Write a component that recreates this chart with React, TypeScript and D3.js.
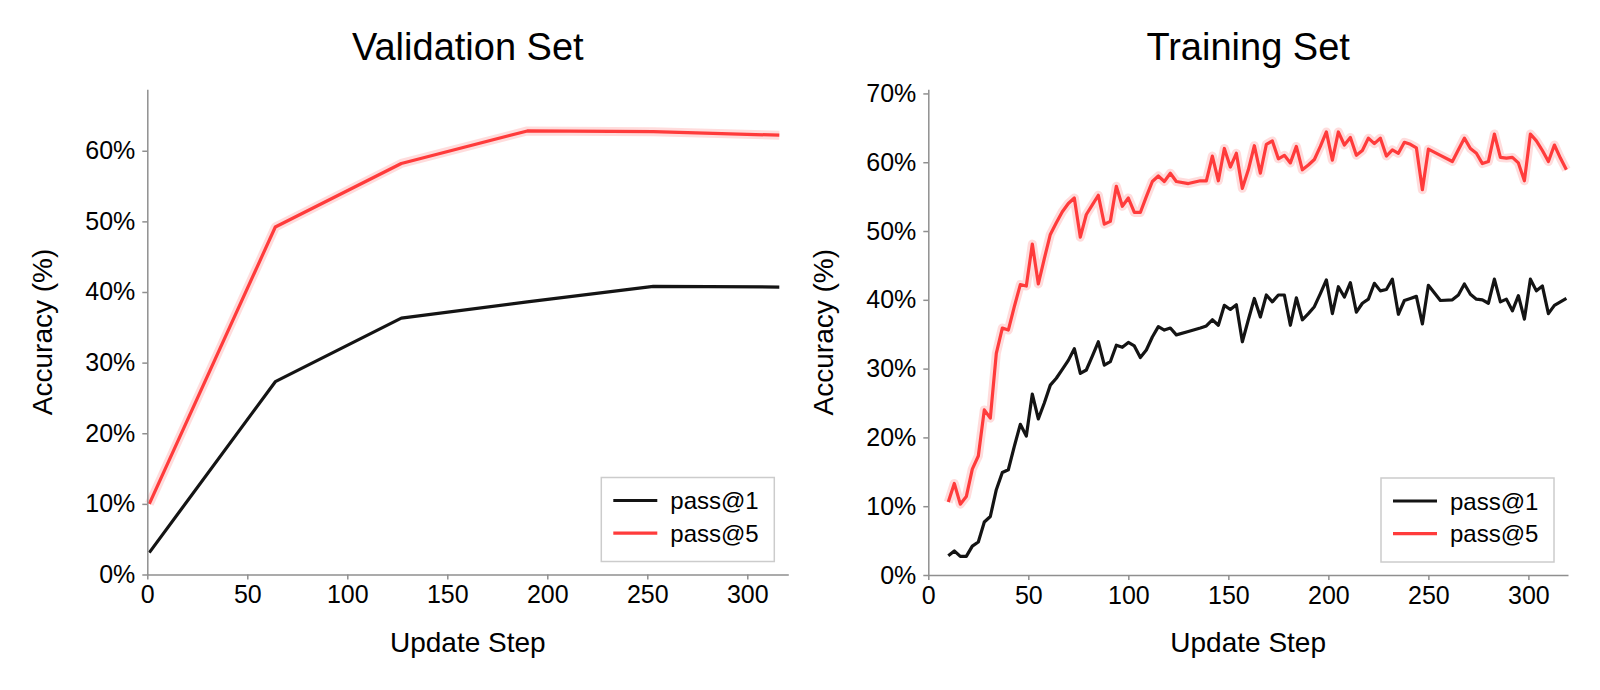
import * as d3 from "d3";
import { useEffect, useRef } from "react";

// validation set: evaluated every 63 update steps
const validationSteps = [1, 64, 127, 190, 253, 316];
const validationPass1 = [3.1, 27.3, 36.3, 38.6, 40.8, 40.7];
const validationPass5 = [10.0, 49.2, 58.2, 62.8, 62.7, 62.2];

// training set
const trainingSteps = [
  10, 13, 16, 19, 22, 25, 28, 31, 34, 37, 40, 43, 46, 49, 52, 55, 58, 61, 64, 67,
  70, 73, 76, 79, 82, 85, 88, 91, 94, 97, 100, 103, 106, 109, 112, 115, 118, 121, 124, 130,
  136, 139, 142, 145, 148, 151, 154, 157, 160, 163, 166, 169, 172, 175, 178, 181, 184, 187, 190, 193,
  196, 199, 202, 205, 208, 211, 214, 217, 220, 223, 226, 229, 232, 235, 238, 241, 244, 247, 250, 256,
  262, 265, 268, 271, 274, 277, 280, 283, 286, 289, 292, 295, 298, 301, 304, 307, 310, 313, 316, 319,
];
const trainingPass1 = [
  2.8, 3.5, 2.7, 2.7, 4.2, 4.8, 7.7, 8.5, 12.4, 14.9, 15.3, 18.7, 21.9, 20.2, 26.3, 22.7, 25.0, 27.6, 28.6, 29.9,
  31.2, 32.9, 29.3, 29.8, 31.8, 33.9, 30.5, 31.0, 33.4, 33.1, 33.8, 33.3, 31.6, 32.7, 34.6, 36.1, 35.6, 35.9, 34.9, 35.4,
  35.9, 36.2, 37.1, 36.3, 39.2, 38.6, 39.3, 33.9, 37.1, 40.2, 37.5, 40.7, 39.7, 40.7, 40.7, 36.3, 40.3, 37.1, 38.0, 39.0,
  40.9, 42.9, 38.0, 41.9, 40.4, 42.5, 38.2, 39.5, 40.1, 42.4, 41.3, 41.5, 43.0, 37.9, 39.9, 40.2, 40.5, 36.5, 42.1, 39.9,
  40.0, 40.7, 42.3, 40.8, 40.1, 40.0, 39.5, 43.0, 39.7, 40.1, 38.4, 40.6, 37.2, 43.0, 41.3, 42.0, 38.0, 39.2, 39.7, 40.2,
];
const trainingPass5 = [
  10.6, 13.3, 10.3, 11.4, 15.4, 17.3, 24.0, 22.8, 32.2, 35.9, 35.6, 39.0, 42.2, 42.0, 48.1, 42.3, 46.0, 49.5, 51.2, 52.8,
  54.0, 54.8, 49.1, 52.4, 53.8, 55.2, 51.0, 51.4, 56.5, 53.6, 54.8, 52.7, 52.7, 55.0, 57.2, 58.0, 57.2, 58.4, 57.2, 56.9,
  57.3, 57.3, 60.9, 57.3, 62.0, 59.3, 61.3, 56.2, 58.9, 62.4, 58.4, 62.6, 63.1, 60.5, 61.0, 59.9, 62.3, 58.9, 59.6, 60.4,
  62.3, 64.4, 60.3, 64.4, 62.5, 63.6, 61.0, 61.7, 63.5, 62.7, 63.5, 60.9, 61.8, 61.3, 62.9, 62.6, 62.1, 56.0, 61.9, 61.0,
  60.1, 61.8, 63.5, 62.0, 61.3, 59.8, 60.1, 64.1, 60.7, 60.6, 60.7, 59.9, 57.3, 64.1, 63.1, 61.7, 60.1, 62.5, 60.6, 58.9,
];

const xTicks = [0, 50, 100, 150, 200, 250, 300];
const validationYTicks = [0, 10, 20, 30, 40, 50, 60];
const trainingYTicks = [0, 10, 20, 30, 40, 50, 60, 70];
const seriesNames = ["pass@1", "pass@5"];

const FONT = "'Liberation Sans', Arial, Helvetica, sans-serif";
const BLACK = "#141414";
const RED = "#ff3b3b";
const SPINE = "#8f8f8f";

interface PanelProps {
  title: string;
  left: number;
  right: number;
  top: number;
  bottom: number;
  xMax: number;
  yMax: number;
  yTicks: number[];
  steps: number[];
  pass1: number[];
  pass5: number[];
}

function Panel({ title, left, right, top, bottom, xMax, yMax, yTicks, steps, pass1, pass5 }: PanelProps) {
  const axesRef = useRef<SVGGElement>(null);

  const xScale = d3.scaleLinear().domain([0, xMax]).range([left, right]);
  const yScale = d3.scaleLinear().domain([0, yMax]).range([bottom, top]);

  const line = d3
    .line<number>()
    .x((_, i) => xScale(steps[i]))
    .y((d) => yScale(d));

  // axes drawn by d3, then restyled like the matplotlib original
  useEffect(() => {
    const g = d3.select(axesRef.current);
    g.selectAll("*").remove();

    const xAxis = g
      .append("g")
      .attr("transform", `translate(0,${bottom})`)
      .call(d3.axisBottom(xScale).tickValues(xTicks).tickSize(5).tickSizeOuter(0).tickPadding(6));
    const yAxis = g
      .append("g")
      .attr("transform", `translate(${left},0)`)
      .call(
        d3
          .axisLeft(yScale)
          .tickValues(yTicks)
          .tickSize(5)
          .tickSizeOuter(0)
          .tickPadding(7)
          .tickFormat((d) => `${d}%`)
      );

    [xAxis, yAxis].forEach((a) => {
      a.attr("font-family", FONT).attr("font-size", 25);
      a.select(".domain").attr("stroke", SPINE).attr("stroke-width", 1.5);
      a.selectAll(".tick line").attr("stroke", SPINE).attr("stroke-width", 1.5);
      a.selectAll(".tick text").attr("fill", "#000");
    });
  }, [left, right, top, bottom, xMax, yMax, yTicks]);

  const midX = (left + right) / 2;
  const midY = (top + bottom) / 2;
  const legX = right - 187;
  const legY = bottom - 97;

  return (
    <g>
      <text x={midX} y={60} textAnchor="middle" fontFamily={FONT} fontSize={38}>
        {title}
      </text>
      <text
        transform={`translate(${left - 95},${midY}) rotate(-90)`}
        textAnchor="middle"
        fontFamily={FONT}
        fontSize={28}
      >
        Accuracy (%)
      </text>
      <text x={midX} y={652} textAnchor="middle" fontFamily={FONT} fontSize={28}>
        Update Step
      </text>

      <path d={line(pass5) ?? ""} fill="none" stroke={RED} strokeOpacity={0.18} strokeWidth={9} strokeLinejoin="round" />
      <path d={line(pass1) ?? ""} fill="none" stroke={BLACK} strokeWidth={3.2} strokeLinejoin="round" />
      <path d={line(pass5) ?? ""} fill="none" stroke={RED} strokeWidth={3.2} strokeLinejoin="round" />

      <g ref={axesRef} />

      <g transform={`translate(${legX},${legY})`} fontFamily={FONT} fontSize={24}>
        <rect x={0} y={0} width={173} height={84} fill="#fff" stroke="#cccccc" strokeWidth={1.5} />
        {seriesNames.map((name, i) => (
          <g key={name} transform={`translate(0,${23 + i * 32.6})`}>
            <line x1={12} x2={56} y1={0} y2={0} stroke={i === 0 ? BLACK : RED} strokeWidth={3.2} />
            <text x={69} y={0} dy="0.36em">
              {name}
            </text>
          </g>
        ))}
      </g>
    </g>
  );
}

export default function App() {
  return (
    <svg width={1600} height={690} style={{ position: "absolute", left: 0, top: 0, background: "#fff" }}>
      <Panel
        title="Validation Set"
        left={147.3}
        right={788.3}
        top={89.3}
        bottom={574.5}
        xMax={320.5}
        yMax={68.7}
        yTicks={validationYTicks}
        steps={validationSteps}
        pass1={validationPass1}
        pass5={validationPass5}
      />
      <Panel
        title="Training Set"
        left={928.3}
        right={1568}
        top={89.3}
        bottom={575}
        xMax={319.8}
        yMax={70.6}
        yTicks={trainingYTicks}
        steps={trainingSteps}
        pass1={trainingPass1}
        pass5={trainingPass5}
      />
    </svg>
  );
}
